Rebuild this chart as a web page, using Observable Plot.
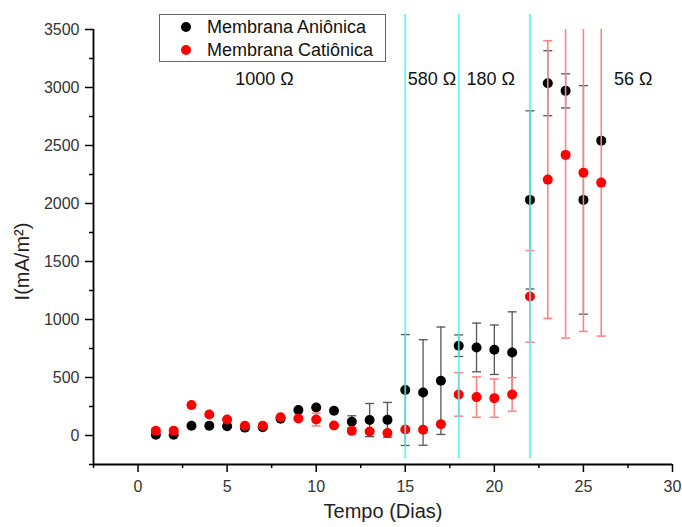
<!DOCTYPE html>
<html>
<head>
<meta charset="utf-8">
<script src="https://cdn.jsdelivr.net/npm/d3@7"></script>
<script src="https://cdn.jsdelivr.net/npm/@observablehq/plot@0.6"></script>
<style>
  html, body { margin: 0; padding: 0; background: #fff; }
  #wrap { position: relative; width: 682px; height: 527px; font-family: "Liberation Sans", Arial, sans-serif; }
  #legend { position: absolute; left: 159px; top: 14px; width: 225px; height: 46px; border: 1px solid #666; background: #fff; }
  .row { position: absolute; left: 0; height: 22px; display: flex; align-items: center; font-size: 18px; color: #111; }
  .dot { width: 10px; height: 10px; border-radius: 50%; margin-left: 21px; margin-right: 16px; }
</style>
</head>
<body>
<div id="wrap">
  <div id="chart"></div>
  <div id="legend">
    <div class="row" style="top:1px"><span class="dot" style="background:#000"></span>Membrana Aniônica</div>
    <div class="row" style="top:24px"><span class="dot" style="background:#ff0000"></span>Membrana Catiônica</div>
  </div>
</div>
<script>
// Days
const days = [1,2,3,4,5,6,7,8,9,10,11,12,13,14,15,16,17,18,19,20,21,22,23,24,25,26];
// Membrana Aniônica (black)
const anionica = [6,6,84,84,80,68,72,144,219,242,213,118,133,135,392,371,472,774,759,739,716,2031,3037,2971,2031,2542];
const anionicaErr = [0,0,0,0,0,15,15,10,0,0,0,52,143,150,478,455,463,93,210,213,350,768,280,147,985,0];
// Membrana Catiônica (red)
const cationica = [40,40,262,181,138,84,84,158,147,138,86,40,35,21,52,49,98,354,331,322,354,1199,2206,2419,2266,2180];
const cationicaErr = [15,15,0,0,0,12,10,0,0,55,0,0,0,0,0,0,0,188,174,165,145,395,1197,1579,1369,1323];
// Resistance change days and labels
const boundaries = [15, 18, 22];
const boundaryExtent = [-200, 3630];
const resistLabels = ["1000 Ω", "580 Ω", "180 Ω", "56 Ω"];
const resistLabelX = [7.1, 16.5, 19.8, 27.8];
const resistLabelY = 3070;
// Axis ticks
const xTicks = [0,5,10,15,20,25,30];
const xMinor = [-2.5,2.5,7.5,12.5,17.5,22.5,27.5];
const yTicks = [0,500,1000,1500,2000,2500,3000,3500];
const yMinor = [-250,250,750,1250,1750,2250,2750,3250];
const yMax = 3500;
const yTitleAt = 1500;

const A = days.map((d, i) => ({day: d, v: anionica[i], e: anionicaErr[i]}));
const C = days.map((d, i) => ({day: d, v: cationica[i], e: cationicaErr[i]}));

const capSymbol = {draw(ctx) { ctx.moveTo(-4.5, 0); ctx.lineTo(4.5, 0); }};

function errMarks(rows, color, width) {
  const withErr = rows.filter(d => d.e > 0);
  const caps = [];
  for (const d of withErr) {
    caps.push({day: d.day, y: d.v - d.e});
    if (d.v + d.e <= yMax) caps.push({day: d.day, y: d.v + d.e});
  }
  return [
    Plot.ruleX(withErr, {x: "day", y1: d => d.v - d.e, y2: d => Math.min(d.v + d.e, yMax), stroke: color, strokeWidth: width}),
    Plot.dot(caps, {x: "day", y: "y", symbol: capSymbol, stroke: color, strokeWidth: width, r: 3})
  ];
}

const font = "'Liberation Sans', Arial, sans-serif";
const fmt = d => String(d);

const chart = Plot.plot({
  width: 682,
  height: 527,
  marginLeft: 93,
  marginRight: 10,
  marginTop: 29,
  marginBottom: 63,
  style: {fontFamily: font, background: "#fff", color: "#000"},
  x: {domain: [-2.5, 30]},
  y: {domain: [-250, 3500]},
  marks: [
    Plot.axisX({ticks: xTicks, tickFormat: fmt, tickSize: 8, tickPadding: 8, fontSize: 16, fill: "#333", label: null, strokeWidth: 1.5}),
    Plot.axisX({ticks: xMinor, tickSize: 4, tickFormat: () => "", label: null, strokeWidth: 1.5}),
    Plot.axisY({ticks: yTicks, tickFormat: fmt, tickSize: 8, tickPadding: 6, fontSize: 16, fill: "#333", label: null, strokeWidth: 1.5}),
    Plot.axisY({ticks: yMinor, tickSize: 4, tickFormat: () => "", label: null, strokeWidth: 1.5}),
    Plot.ruleY([-250], {stroke: "#000", strokeWidth: 1.8}),
    Plot.ruleX([-2.5], {stroke: "#000", strokeWidth: 1.8}),
    ...errMarks(A, "#555", 1.3),
    Plot.dot(A, {x: "day", y: "v", r: 5, fill: "#000"}),
    ...errMarks(C, "#ff8585", 1.6),
    Plot.dot(C, {x: "day", y: "v", r: 5, fill: "#ff0000"}),
    Plot.ruleX(boundaries, {x: d => d, y1: boundaryExtent[0], y2: boundaryExtent[1], stroke: "#55eeee", strokeWidth: 1.8, strokeOpacity: 0.85}),
    Plot.text(resistLabels, {x: (d, i) => resistLabelX[i], y: resistLabelY, text: d => d, fontSize: 18, fill: "#111"}),
    Plot.text(["Tempo (Dias)"], {frameAnchor: "bottom", dy: 53, text: d => d, fontSize: 20, fill: "#222"}),
    Plot.text(["I(mA/m²)"], {frameAnchor: "left", textAnchor: "middle", y: () => yTitleAt, dx: -71, rotate: -90, text: d => d, fontSize: 20, fill: "#222"})
  ]
});
document.getElementById("chart").appendChild(chart);
</script>
</body>
</html>
